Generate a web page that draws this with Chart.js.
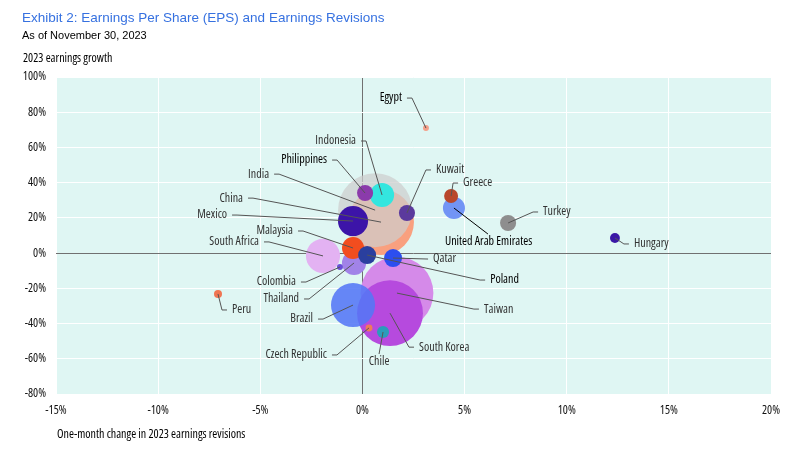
<!DOCTYPE html>
<html>
<head>
<meta charset="utf-8">
<script src="https://cdn.jsdelivr.net/npm/chart.js@4"></script>
<style>
  html, body { margin: 0; padding: 0; background: #fff; overflow: hidden; }
  #wrap { width: 800px; height: 459px; position: relative; }
  canvas { display: block; }
</style>
</head>
<body>
<div id="wrap"><canvas id="myChart"></canvas></div>
<script>
// data
var countries = ["China", "India", "Taiwan", "South Korea", "Brazil", "South Africa", "Mexico",
  "Indonesia", "Thailand", "Malaysia", "United Arab Emirates", "Qatar", "Poland", "Kuwait",
  "Philippines", "Turkey", "Greece", "Chile", "Hungary", "Peru", "Colombia", "Czech Republic", "Egypt"];
var revisionChange = [0.91, 0.62, 1.69, 1.35, -0.46, -1.93, -0.46,
  0.96, -0.41, -0.46, 4.48, 1.50, 0.23, 2.18,
  0.13, 7.13, 4.34, 1.01, 12.36, -7.07, -1.10, 0.32, 3.11];
var earningsGrowth = [17.6, 24.4, -22.7, -34.1, -29.5, -1.6, 18.2,
  33.0, -5.6, 2.9, 25.6, -2.8, -1.1, 22.8,
  34.1, 17.1, 32.4, -44.8, 8.6, -23.2, -7.9, -42.5, 71.0];
var indexWeight = [13.4, 16.9, 16.4, 13.4, 6.0, 3.6, 2.8,
  1.8, 1.8, 1.5, 1.5, 1.0, 1.0, 0.8,
  0.8, 0.8, 0.6, 0.45, 0.3, 0.2, 0.11, 0.15, 0.11];
var xTicks = [-15, -10, -5, 0, 5, 10, 15, 20];
var yTicks = [-80, -60, -40, -20, 0, 20, 40, 60, 80, 100];

var bubbleColors = ["#f9a07f", "rgba(205,205,205,0.72)", "#d58ae9", "#b64ade", "rgba(84,118,246,0.88)",
  "#e3b2f2", "#3c14a8", "#33e6df", "#a183e8", "#f24d1f", "#7294f5", "#2c4ef0", "#2a3f9e", "#5b3a9d",
  "#8b3bab", "#8e8e8e", "#b9462c", "#2a9dba", "#3a18a6", "#f07552", "#6a4fd8", "#f07a5a", "#f4a08a"];

// label placement, pixel offsets from the bubble centre
var labelLayout = {
  "Egypt": { dx: -24, dy: -30, side: "right", dark: true },
  "Indonesia": { dx: -26, dy: -54, side: "right" },
  "Philippines": { dx: -38, dy: -33, side: "right", dark: true },
  "India": { dx: -106, dy: -36, side: "right" },
  "Kuwait": { dx: 29, dy: -43, side: "left" },
  "Greece": { dx: 12, dy: -13, side: "left" },
  "Turkey": { dx: 35, dy: -11, side: "left" },
  "Hungary": { dx: 19, dy: 6, side: "left" },
  "United Arab Emirates": { dx: -9, dy: 34, side: "free", dark: true, from: [34, 26], lineColor: "#000" },
  "China": { dx: -138, dy: -24, side: "right" },
  "Mexico": { dx: -126, dy: -6, side: "right" },
  "Malaysia": { dx: -60, dy: -17, side: "right" },
  "South Africa": { dx: -64, dy: -14, side: "right" },
  "Qatar": { dx: 40, dy: 1, side: "left", straight: true },
  "Poland": { dx: 123, dy: 25, side: "left", dark: true },
  "Colombia": { dx: -44, dy: 15, side: "right" },
  "Thailand": { dx: -55, dy: 36, side: "right" },
  "Peru": { dx: 14, dy: 16, side: "left" },
  "Brazil": { dx: -40, dy: 14, side: "right" },
  "Taiwan": { dx: 87, dy: 16, side: "left" },
  "South Korea": { dx: 29, dy: 34, side: "left" },
  "Czech Republic": { dx: -42, dy: 27, side: "right" },
  "Chile": { dx: -4, dy: 30, side: "center", from: [-4, 22] }
};

var narrowFamily = "'Open Sans', sans-serif";
var narrowFont = "condensed 12px " + narrowFamily;

var points = [];
for (var i = 0; i < countries.length; i++) {
  points.push({ x: revisionChange[i], y: earningsGrowth[i], r: 9 * Math.sqrt(indexWeight[i]), name: countries[i] });
}

var backgroundPlugin = {
  id: "plotBg",
  beforeDraw: function (chart) {
    var a = chart.chartArea, c = chart.ctx;
    c.save();
    c.fillStyle = "#dff6f3";
    c.fillRect(a.left, a.top, a.right - a.left, a.bottom - a.top);
    c.restore();
  }
};

var textPlugin = {
  id: "texts",
  afterDraw: function (chart) {
    var c = chart.ctx;
    c.save();
    c.textBaseline = "middle";
    c.textAlign = "left";
    c.fillStyle = "#3671e0";
    c.font = "13.5px 'Liberation Sans', Arial, sans-serif";
    c.fillText("Exhibit 2: Earnings Per Share (EPS) and Earnings Revisions", 22, 18);
    c.fillStyle = "#000";
    c.font = "11px 'Liberation Sans', Arial, sans-serif";
    c.fillText("As of November 30, 2023", 22, 36);
    c.font = narrowFont;
    c.fillText("2023 earnings growth", 23, 59);
    c.fillText("One-month change in 2023 earnings revisions", 57, 435);
    c.restore();
  }
};

var labelPlugin = {
  id: "leaderLabels",
  afterDatasetsDraw: function (chart) {
    var c = chart.ctx;
    var meta = chart.getDatasetMeta(0);
    c.save();
    c.font = narrowFont;
    c.textBaseline = "middle";
    c.lineWidth = 1;
    meta.data.forEach(function (el, i) {
      var name = countries[i];
      var L = labelLayout[name];
      if (!L) return;
      var px = el.x, py = el.y;
      var tx = px + L.dx, ty = py + L.dy;
      c.strokeStyle = L.lineColor || "#555";
      c.beginPath();
      if (L.side === "right") {
        c.moveTo(tx + 5, ty); c.lineTo(tx + 10, ty); c.lineTo(px, py);
      } else if (L.side === "left") {
        if (L.straight) {
          c.moveTo(tx - 5, ty); c.lineTo(px, py);
        } else {
          c.moveTo(tx - 5, ty); c.lineTo(tx - 10, ty); c.lineTo(px, py);
        }
      } else {
        c.moveTo(px + L.from[0], py + L.from[1]); c.lineTo(px, py);
      }
      c.stroke();
      c.fillStyle = L.dark ? "#000" : "#333";
      c.textAlign = L.side === "right" ? "right" : (L.side === "center" ? "center" : "left");
      c.fillText(name, tx, ty);
    });
    c.restore();
  }
};

new Chart("myChart", {
  type: "bubble",
  data: {
    datasets: [{
      data: points,
      backgroundColor: bubbleColors,
      borderWidth: 0,
      hoverRadius: 0
    }]
  },
  options: {
    responsive: true,
    maintainAspectRatio: false,
    animation: false,
    events: [],
    layout: { autoPadding: false, padding: { top: 77, right: 29, bottom: 0, left: 0 } },
    plugins: {
      legend: { display: false },
      tooltip: { enabled: false },
      title: { display: false }
    },
    scales: {
      x: {
        type: "linear",
        min: -15, max: 20,
        afterBuildTicks: function (s) { s.ticks = xTicks.map(function (v) { return { value: v }; }); },
        afterFit: function (s) { s.height = 65; s.paddingLeft = 0; s.paddingRight = 0; },
        border: { display: false },
        grid: {
          drawTicks: false,
          color: function (ctx) { return ctx.tick && ctx.tick.value === 0 ? "#707070" : "#ffffff"; },
          lineWidth: 1
        },
        ticks: {
          padding: 9,
          color: "#111",
          font: { family: narrowFamily, size: 12, weight: "condensed" },
          callback: function (v) { return v + "%"; }
        }
      },
      y: {
        type: "linear",
        min: -80, max: 100,
        afterBuildTicks: function (s) { s.ticks = yTicks.map(function (v) { return { value: v }; }); },
        afterFit: function (s) { s.width = 56; s.paddingTop = 0; s.paddingBottom = 0; },
        border: { display: false },
        grid: {
          drawTicks: false,
          color: function (ctx) { return ctx.tick && ctx.tick.value === 0 ? "#707070" : "#ffffff"; },
          lineWidth: 1
        },
        ticks: {
          padding: 10,
          color: "#111",
          font: { family: narrowFamily, size: 12, weight: "condensed" },
          callback: function (v) { return v + "%"; }
        }
      }
    }
  },
  plugins: [backgroundPlugin, textPlugin, labelPlugin]
});
</script>
</body>
</html>
